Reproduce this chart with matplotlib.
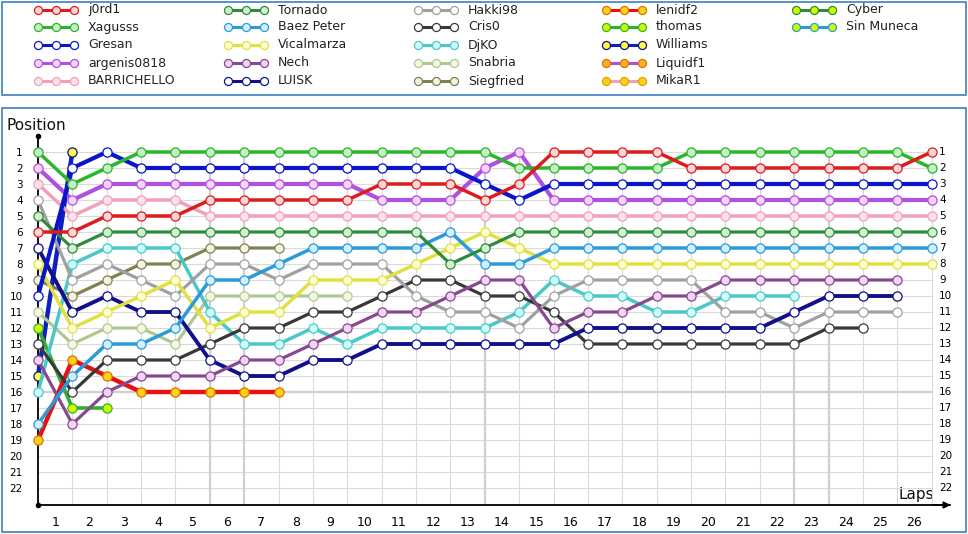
#!/usr/bin/env python3
"""Lap chart: race positions per lap for each driver."""

import matplotlib
matplotlib.use("Agg")
import matplotlib.pyplot as plt
from matplotlib.patches import Rectangle

# ---- data: position at each lap (lap 0 = starting grid) ----
drivers = ["j0rd1", "Xagusss", "Gresan", "argenis0818", "BARRICHELLO",
           "Tornado", "Baez Peter", "Vicalmarza", "Nech", "LUISK",
           "Hakki98", "Cris0", "DjKO", "Snabria", "Siegfried",
           "lenidf2", "thomas", "Williams", "Liquidf1", "MikaR1",
           "Cyber", "Sin Muneca"]

j0rd1 = [6, 6, 5, 5, 5, 4, 4, 4, 4, 4, 3, 3, 3, 4, 3, 1, 1, 1, 1, 2, 2, 2, 2, 2, 2, 2, 1]
xagusss = [1, 3, 2, 1, 1, 1, 1, 1, 1, 1, 1, 1, 1, 1, 2, 2, 2, 2, 2, 1, 1, 1, 1, 1, 1, 1, 2]
gresan = [10, 2, 1, 2, 2, 2, 2, 2, 2, 2, 2, 2, 2, 3, 4, 3, 3, 3, 3, 3, 3, 3, 3, 3, 3, 3, 3]
argenis = [2, 4, 3, 3, 3, 3, 3, 3, 3, 3, 4, 4, 4, 2, 1, 4, 4, 4, 4, 4, 4, 4, 4, 4, 4, 4, 4]
barrichello = [3, 5, 4, 4, 4, 5, 5, 5, 5, 5, 5, 5, 5, 5, 5, 5, 5, 5, 5, 5, 5, 5, 5, 5, 5, 5, 5]
tornado = [5, 7, 6, 6, 6, 6, 6, 6, 6, 6, 6, 6, 8, 7, 6, 6, 6, 6, 6, 6, 6, 6, 6, 6, 6, 6, 6]
baez = [18, 15, 13, 13, 12, 9, 9, 8, 7, 7, 7, 7, 6, 8, 8, 7, 7, 7, 7, 7, 7, 7, 7, 7, 7, 7, 7]
vicalmarza = [8, 12, 11, 10, 9, 12, 11, 11, 9, 9, 9, 8, 7, 6, 7, 8, 8, 8, 8, 8, 8, 8, 8, 8, 8, 8, 8]
nech = [14, 18, 16, 15, 15, 15, 14, 14, 13, 12, 11, 11, 10, 9, 9, 12, 11, 11, 10, 10, 9, 9, 9, 9, 9, 9]
luisk = [7, 11, 10, 11, 11, 14, 15, 15, 14, 14, 13, 13, 13, 13, 13, 13, 12, 12, 12, 12, 12, 12, 11, 10, 10, 10]
hakki98 = [4, 9, 8, 9, 10, 8, 8, 9, 8, 8, 8, 10, 11, 11, 12, 10, 9, 9, 9, 9, 11, 11, 12, 11, 11, 11]
cris0 = [13, 16, 14, 14, 14, 13, 12, 12, 11, 11, 10, 9, 9, 10, 10, 11, 13, 13, 13, 13, 13, 13, 13, 12, 12]
djko = [16, 8, 7, 7, 7, 11, 13, 13, 12, 13, 12, 12, 12, 12, 11, 9, 10, 10, 11, 11, 10, 10, 10]
snabria = [11, 13, 12, 12, 13, 10, 10, 10, 10, 10]
siegfried = [9, 10, 9, 8, 8, 7, 7, 7]
lenidf2 = [19, 14, 15, 16, 16, 16, 16, 16]
thomas = [12, 17, 17]
williams = [15, 1]
liquidf1 = []
mikar1 = []
cyber = []
sin_muneca = []

positions = [j0rd1, xagusss, gresan, argenis, barrichello,
             tornado, baez, vicalmarza, nech, luisk,
             hakki98, cris0, djko, snabria, siegfried,
             lenidf2, thomas, williams, liquidf1, mikar1,
             cyber, sin_muneca]

laps = list(range(1, 27))
grid_positions = list(range(1, 23))

# ---- styles ----
line_colors = ["#dd1c1c", "#2ab52a", "#0a14c8", "#b050e0", "#f0a0b8",
               "#2e8b3a", "#2a9ad8", "#e0e040", "#884890", "#10108a",
               "#a0a0a0", "#383838", "#48c8c8", "#b0c890", "#808050",
               "#e81010", "#30b030", "#1020c0", "#b050e0", "#f0a0b8",
               "#2e8b3a", "#2a9ad8"]
fill_colors = ["#ffd6d6", "#c8f0c8", "#ffffff", "#f8d4f8", "#ffe2ea",
               "#d2f0d2", "#d2f0ff", "#ffffd2", "#f4d4f4", "#ffffff",
               "#ffffff", "#ffffff", "#d2ffff", "#f2f8e4", "#f4f4e4",
               "#ffd21a", "#ccff00", "#ffff40", "#ffb020", "#ffd21a",
               "#ccff00", "#ccff00"]
edge_colors = ["#dd1c1c", "#2ab52a", "#0a14c8", "#b050e0", "#f0a0b8",
               "#2e8b3a", "#2a9ad8", "#e0e040", "#884890", "#10108a",
               "#a0a0a0", "#383838", "#48c8c8", "#b0c890", "#808050",
               "#e07000", "#30b030", "#10108a", "#e07000", "#e0a000",
               "#2e8b3a", "#2a9ad8"]
widths = [2.5, 2.5, 3.0, 3.0, 2.5, 2.3, 2.5, 2.5, 2.3, 2.8,
          2.3, 2.3, 2.5, 2.3, 2.3, 3.2, 2.6, 3.2, 2.4, 2.4, 2.4, 2.4]

W, H = 968, 534
fig = plt.figure(figsize=(W / 100, H / 100), dpi=100)

# background layer in pixel coordinates: boxes, legend, axis titles
bg = fig.add_axes([0, 0, 1, 1])
bg.set_xlim(0, W)
bg.set_ylim(H, 0)
bg.axis("off")
box_col = "#3d7fc0"
bg.add_patch(Rectangle((1.5, 1.5), 964, 93, fill=False, ec=box_col, lw=1.2))
bg.add_patch(Rectangle((1.5, 108), 964, 424, fill=False, ec=box_col, lw=1.2))

col_x = [38, 228, 418, 606, 796]
row_y = [10, 27, 45, 63, 81]
for i, name in enumerate(drivers):
    x0 = col_x[i // 5]
    y0 = row_y[i % 5]
    bg.plot([x0, x0 + 18, x0 + 36], [y0, y0, y0], color=line_colors[i], lw=2.2,
            marker="o", ms=5.8, mfc=fill_colors[i], mec=edge_colors[i], mew=0.9)
    bg.text(x0 + 50, y0, name, fontsize=9, va="center", ha="left", color="#222222")

bg.text(7, 126, "Position", fontsize=11, va="center", ha="left", color="#111111")
bg.text(898, 494, "Laps", fontsize=11, va="center", ha="left", color="#111111")

# main plot area: lap 0 at x=38px, 34.37px per lap; position 1 at y=152px, 16px per place
ax = fig.add_axes([38 / W, 1 - 505 / H, 912 / W, 369 / H])
ax.patch.set_visible(False)
ax.set_xlim(0, 912 / 34.37)
y_bottom = 1 + (505 - 152) / 16
ax.set_ylim(y_bottom, 0)

for p in grid_positions:
    heavy = p == 16
    ax.plot([0, laps[-1]], [p, p], color="#cfcfcf" if heavy else "#dadada",
            lw=1.6 if heavy else 0.8, zorder=0)
for lap in laps:
    heavy = lap in (5, 6, 13, 22, 23)
    ax.plot([lap, lap], [1, y_bottom], color="#cfcfcf" if heavy else "#dadada",
            lw=1.6 if heavy else 0.8, zorder=0)

for s in ["top", "right"]:
    ax.spines[s].set_visible(False)
ax.spines["left"].set_linewidth(1.3)
ax.spines["bottom"].set_linewidth(1.3)

ax.set_xticks([lap - 0.5 for lap in laps])
ax.set_xticklabels([str(lap) for lap in laps], fontsize=9)
ax.tick_params(axis="x", length=0, pad=8)
ax.set_yticks(grid_positions)
ax.set_yticklabels([str(p) for p in grid_positions], fontsize=7.5)
ax.tick_params(axis="y", length=0, pad=11)
for p in grid_positions:
    ax.text(laps[-1] + 0.22, p, str(p), fontsize=7.5, va="center", ha="left")

# axis decorations: dots and arrow
ax.plot([0], [0], "ko", ms=3, clip_on=False)
ax.plot([0], [y_bottom], "ko", ms=3, clip_on=False)
ax.annotate("", xy=(912 / 34.37 + 0.1, y_bottom), xytext=(912 / 34.37 - 0.6, y_bottom),
            arrowprops=dict(arrowstyle="-|>", color="black", lw=1.2, mutation_scale=10),
            annotation_clip=False)

# driver lines, drawn so that the leaders end on top
for i in reversed(range(len(drivers))):
    pos = positions[i]
    if not pos:
        continue
    ax.plot(range(len(pos)), pos, color=line_colors[i], lw=widths[i],
            marker="o", ms=6.6, mfc=fill_colors[i], mec=edge_colors[i], mew=0.9,
            clip_on=False, zorder=3, solid_joinstyle="round")

fig.savefig("out.png", dpi=100)
